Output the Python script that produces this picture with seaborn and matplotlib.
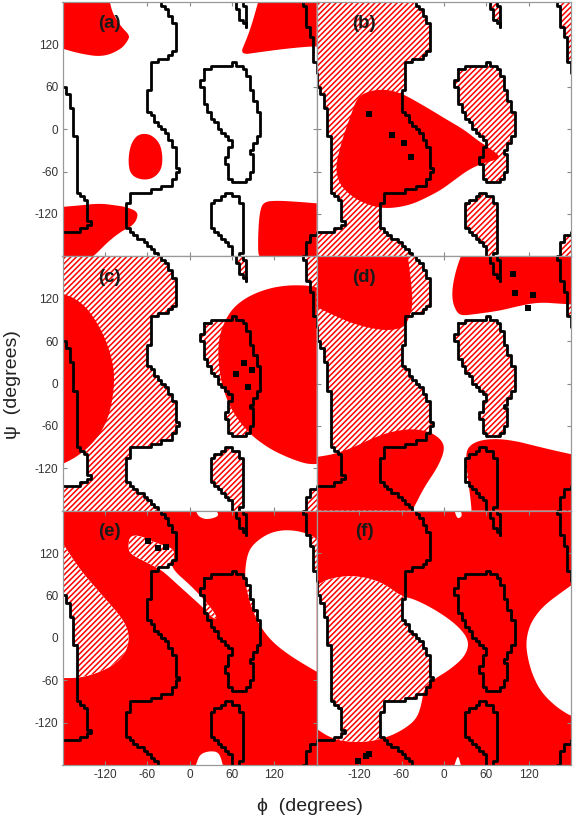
import numpy as np
import matplotlib
matplotlib.use("Agg")
import matplotlib.pyplot as plt
from matplotlib.patches import Polygon
import seaborn as sns

# ---------------- data (phi, psi in degrees) ----------------
TICKS = [-120, -60, 0, 60, 120]
PANEL_LABELS = ["(a)", "(b)", "(c)", "(d)", "(e)", "(f)"]

# allowed-region outline (same in every panel)
contour_middle = [(-42, 180), (-33, 168), (-24, 154), (-19, 136), (-18, 116), (-24, 105), (-45, 97),
                  (-55, 91), (-56, 59), (-60, 41), (-60, 27), (-50, 15), (-33, -6), (-24, -20),
                  (-19, -40), (-17, -62), (-25, -77), (-42, -83), (-61, -89), (-84, -91), (-88, -105),
                  (-90, -122), (-92, -138), (-82, -148), (-68, -157), (-54, -168), (-45, -180)]
contour_left = [(-180, 79), (-177, 55), (-172, 52), (-171, 34), (-167, 31), (-165, -6), (-162, -8),
                (-161, -34), (-158, -37), (-158, -51), (-161, -54), (-161, -82), (-157, -93),
                (-147, -100), (-145, -129), (-141, -133), (-145, -138), (-155, -143), (-165, -145),
                (-180, -147)]
contour_right_top = [(162, 180), (166, 146), (173, 130), (176, 116), (177, 95), (180, 79)]
contour_right_bottom = [(180, -147), (174, -150), (167, -162), (162, -180)]
island_upper = [(19, 83), (38, 90), (61, 93), (75, 88), (82, 74), (87, 60), (89, 46), (96, 31), (99, 13),
                (99, -6), (92, -20), (87, -30), (89, -44), (92, -53), (87, -63), (82, -72), (71, -77),
                (61, -74), (54, -63), (52, -44), (54, -30), (59, -20), (54, -11), (42, 3), (31, 17),
                (24, 31), (19, 46), (17, 65)]
island_lower_bottom = [(62, -180), (60, -170), (50, -158), (40, -148), (32, -140), (32, -106), (47, -94),
                       (56, -91), (66, -95), (74, -107), (76, -120), (75, -138), (74, -157), (72, -180)]
island_lower_top = [(64, 180), (67, 168), (74, 154), (79, 147), (82, 154), (79, 168), (76, 180)]

# red regions, panel (a)
red_a_tl = [(-180, 180), (-113, 180), (-109, 164), (-97, 145), (-85, 133), (-87, 126), (-97, 113),
            (-123, 102), (-156, 107), (-180, 114)]
red_a_tr = [(97, 180), (180, 180), (180, 117), (170, 117), (137, 114), (99, 109), (71, 105), (80, 126),
            (87, 145), (94, 169)]
red_a_bl = [(-180, -110), (-156, -108), (-127, -105), (-104, -108), (-90, -110), (-73, -117), (-75, -129),
            (-83, -138), (-94, -143), (-113, -157), (-132, -176), (-137, -180), (-180, -180)]
red_a_br = [(104, -103), (123, -101), (156, -103), (180, -105), (180, -180), (99, -180), (97, -176),
            (97, -148), (99, -119)]
red_a_mid = [(-68, -6), (-54, -8), (-42, -20), (-38, -39), (-40, -58), (-52, -70), (-68, -72), (-83, -65),
             (-87, -49), (-85, -27), (-78, -12)]

# red region, panel (b)
red_b = [(-122, 46), (-103, 55), (-80, 56), (-61, 51), (-42, 41), (-18, 27), (5, 13), (29, -1), (48, -16),
         (62, -25), (81, -39), (72, -44), (53, -49), (34, -58), (15, -72), (-4, -86), (-23, -96),
         (-42, -105), (-61, -110), (-80, -112), (-98, -110), (-122, -101), (-141, -86), (-150, -72),
         (-153, -53), (-148, -30), (-141, -6), (-131, 22)]

# red regions, panel (c)
red_c_left = [(-180, 127), (-165, 122), (-146, 108), (-127, 80), (-113, 47), (-106, 14), (-109, -24),
              (-118, -57), (-137, -85), (-160, -104), (-180, -114)]
red_c_right = [(180, 136), (165, 139), (137, 139), (109, 134), (80, 122), (57, 103), (42, 70), (40, 37),
               (45, 0), (57, -34), (80, -67), (109, -90), (137, -104), (165, -114), (180, -114)]

# red regions, panel (d)
red_d_tl = [(-180, 180), (-51, 180), (-46, 141), (-44, 108), (-51, 89), (-56, 80), (-75, 75), (-98, 77),
            (-127, 84), (-155, 96), (-180, 108)]
red_d_tr = [(24, 180), (180, 180), (180, 112), (164, 113), (135, 115), (107, 110), (79, 103), (43, 98),
            (24, 96), (17, 103), (12, 117), (12, 136), (17, 160)]
red_d_bl = [(-180, -104), (-155, -100), (-127, -90), (-98, -76), (-70, -67), (-42, -64), (-18, -69),
            (-2, -81), (1, -95), (-9, -119), (-28, -147), (-42, -175), (-46, -180), (-180, -180)]
red_d_br = [(34, -90), (48, -81), (72, -78), (100, -81), (128, -88), (157, -95), (180, -100), (180, -180),
            (39, -180), (39, -175), (34, -133), (31, -104)]

# non-red (uncovered) regions, panel (e)
clear_e_right = [(87, 130), (109, 147), (132, 153), (156, 151), (175, 144), (180, 138), (180, -48),
                 (146, -28), (118, -7), (99, 17), (85, 50), (78, 83), (80, 111)]
clear_e_left = [(-180, 134), (-156, 97), (-123, 59), (-94, 26), (-85, 3), (-90, -21), (-109, -40),
                (-137, -52), (-160, -57), (-180, -57)]
clear_e_streak = [(-85, 144), (-71, 145), (-47, 134), (-24, 127), (-21, 116), (-28, 100), (5, 71), (28, 45),
                  (39, 29), (35, 26), (19, 43), (-10, 69), (-33, 90), (-42, 97), (-61, 107), (-83, 118),
                  (-87, 127)]
clear_e_top = [(9, 180), (38, 180), (42, 172), (24, 167), (12, 172)]
clear_e_bottom = [(9, -180), (14, -165), (28, -160), (42, -162), (47, -180)]

# non-red (uncovered) regions, panel (f)
clear_f_left = [(-180, 74), (-165, 83), (-136, 88), (-108, 85), (-84, 76), (-61, 59), (-42, 55), (-9, 38),
                (20, 17), (36, -4), (31, -25), (10, -44), (-13, -58), (-28, -70), (-32, -96), (-39, -115),
                (-56, -129), (-80, -141), (-113, -148), (-146, -146), (-165, -139), (-180, -129)]
clear_f_right = [(180, 74), (166, 64), (147, 50), (133, 36), (121, 17), (116, -7), (119, -30), (126, -54),
                 (138, -77), (157, -96), (175, -108), (180, -110)]
clear_f_top = [(15, 180), (24, 180), (26, 172), (19, 168)]
clear_f_bottom = [(15, -180), (20, -165), (24, -180)]

# black markers
dots_b_phi = [-106, -74, -57, -46]
dots_b_psi = [21, -8, -19, -39]
dots_c_phi = [66, 77, 89, 83]
dots_c_psi = [14, 29, 19, -5]
dots_d_phi = [98, 101, 126, 119]
dots_d_psi = [155, 128, 125, 107]
dots_e_phi = [-59, -45, -33]
dots_e_psi = [137, 127, 128]
dots_f_phi = [-122, -110, -106]
dots_f_psi = [-174, -167, -165]

# ---------------- helpers ----------------
RED = "#ff0000"


def smooth(poly, n=3):
    P = np.asarray(poly, float)
    for _ in range(n):
        out = []
        N = len(P)
        for i in range(N):
            p = P[i]
            if np.max(np.abs(p)) >= 179.5:
                out.append(p)
            else:
                out.append(0.75 * p + 0.25 * P[i - 1])
                out.append(0.75 * p + 0.25 * P[(i + 1) % N])
        P = np.array(out)
    return P


def staircase(pts, closed=False, g=5.0):
    P = np.asarray(pts, float)
    if closed:
        P = np.vstack([P, P[:1]])
    dense = []
    for a, b in zip(P[:-1], P[1:]):
        n = int(np.ceil(np.hypot(*(b - a)) / (g / 4.0))) + 1
        t = np.linspace(0, 1, n, endpoint=False)
        dense.extend(a + (b - a) * t[:, None])
    dense.append(P[-1])
    S = np.round(np.array(dense) / g) * g
    out = [S[0]]
    for s in S[1:]:
        last = out[-1]
        if s[0] == last[0] and s[1] == last[1]:
            continue
        if s[0] != last[0] and s[1] != last[1]:
            out.append(np.array([s[0], last[1]]))
        out.append(s)
    return np.array(out)


allowed_main = ([(-180, 180)] + contour_middle + [(-180, -180)] + contour_left[::-1])
allowed_tr = contour_right_top + [(180, 180)]
allowed_br = contour_right_bottom + [(180, -180)]
allowed_polys = [allowed_main, allowed_tr, allowed_br, island_upper, island_lower_bottom, island_lower_top]

contour_lines = [(contour_middle, False), (contour_left, False), (contour_right_top, False),
                 (contour_right_bottom, False), (island_upper, True), (island_lower_bottom, False),
                 (island_lower_top, False)]

red_by_panel = {0: [red_a_tl, red_a_tr, red_a_bl, red_a_br, red_a_mid],
                1: [red_b],
                2: [red_c_left, red_c_right],
                3: [red_d_tl, red_d_tr, red_d_bl, red_d_br]}
clear_by_panel = {4: [clear_e_right, clear_e_left, clear_e_streak, clear_e_top, clear_e_bottom],
                  5: [clear_f_left, clear_f_right, clear_f_top, clear_f_bottom]}
dots_by_panel = {1: (dots_b_phi, dots_b_psi), 2: (dots_c_phi, dots_c_psi), 3: (dots_d_phi, dots_d_psi),
                 4: (dots_e_phi, dots_e_psi), 5: (dots_f_phi, dots_f_psi)}


def hatch_patch(poly, **kw):
    return Polygon(staircase(poly, closed=True), closed=True, facecolor="white", edgecolor=RED,
                   hatch="//////", linewidth=0, **kw)


# ---------------- figure ----------------
sns.set_style("ticks")
plt.rcParams["font.family"] = ["Liberation Sans", "DejaVu Sans"]
plt.rcParams["axes.unicode_minus"] = False
plt.rcParams["hatch.linewidth"] = 1.1
plt.rcParams["hatch.color"] = RED

W, H = 575, 822
fig = plt.figure(figsize=(W / 100, H / 100), dpi=100)
axes = fig.subplots(3, 2)
fig.subplots_adjust(left=62.5 / W, right=571 / W, top=1 - 2 / H, bottom=1 - 765 / H, wspace=0, hspace=0)

for k, ax in enumerate(axes.flat):
    row, col = divmod(k, 2)
    ax.set_xlim(-180, 180)
    ax.set_ylim(-180, 180)

    if k in red_by_panel:
        if k != 0:
            for poly in allowed_polys:
                ax.add_patch(hatch_patch(poly, zorder=1))
        for poly in red_by_panel[k]:
            ax.add_patch(Polygon(smooth(poly), closed=True, facecolor=RED, edgecolor="none",
                                 linewidth=0, zorder=2))
    else:
        ax.set_facecolor(RED)
        for cpoly in clear_by_panel[k]:
            cp = Polygon(smooth(cpoly), closed=True, facecolor="white", edgecolor="none",
                         linewidth=0, zorder=1)
            ax.add_patch(cp)
            for poly in allowed_polys:
                hp = hatch_patch(poly, zorder=1.5)
                ax.add_patch(hp)
                hp.set_clip_path(cp)

    for line, closed in contour_lines:
        s = staircase(line, closed=closed)
        sns.lineplot(x=s[:, 0], y=s[:, 1], sort=False, estimator=None, color="black",
                     linewidth=2.0, ax=ax, zorder=3, legend=False)

    if k in dots_by_panel:
        px, py = dots_by_panel[k]
        sns.scatterplot(x=px, y=py, marker="s", s=22, color="black", edgecolor="black",
                        linewidth=0, ax=ax, zorder=4, legend=False)

    ax.text(-113, 150, PANEL_LABELS[k], fontsize=13.5, fontweight="bold", color="#1a1a1a",
            ha="center", va="center", zorder=5)

    ax.set_xticks(TICKS)
    ax.set_yticks(TICKS)
    ax.set_xlabel("")
    ax.set_ylabel("")
    ax.tick_params(direction="in", length=3, width=0.8, color="#888888", top=True, right=True,
                   labelsize=8.5, labelcolor="#333333", pad=3,
                   labelleft=(col == 0), labelbottom=(row == 2))
    for sp in ax.spines.values():
        sp.set_color("#999999")
        sp.set_linewidth(0.9)
        sp.set_zorder(6)

fig.text(13 / W, 1 - 385 / H, "ψ  (degrees)", rotation=90, fontsize=14, color="#222222",
         ha="center", va="center")
fig.text(310 / W, 1 - 806 / H, "ϕ  (degrees)", fontsize=14, color="#222222", ha="center", va="center")

fig.savefig("out.png", dpi=100)
